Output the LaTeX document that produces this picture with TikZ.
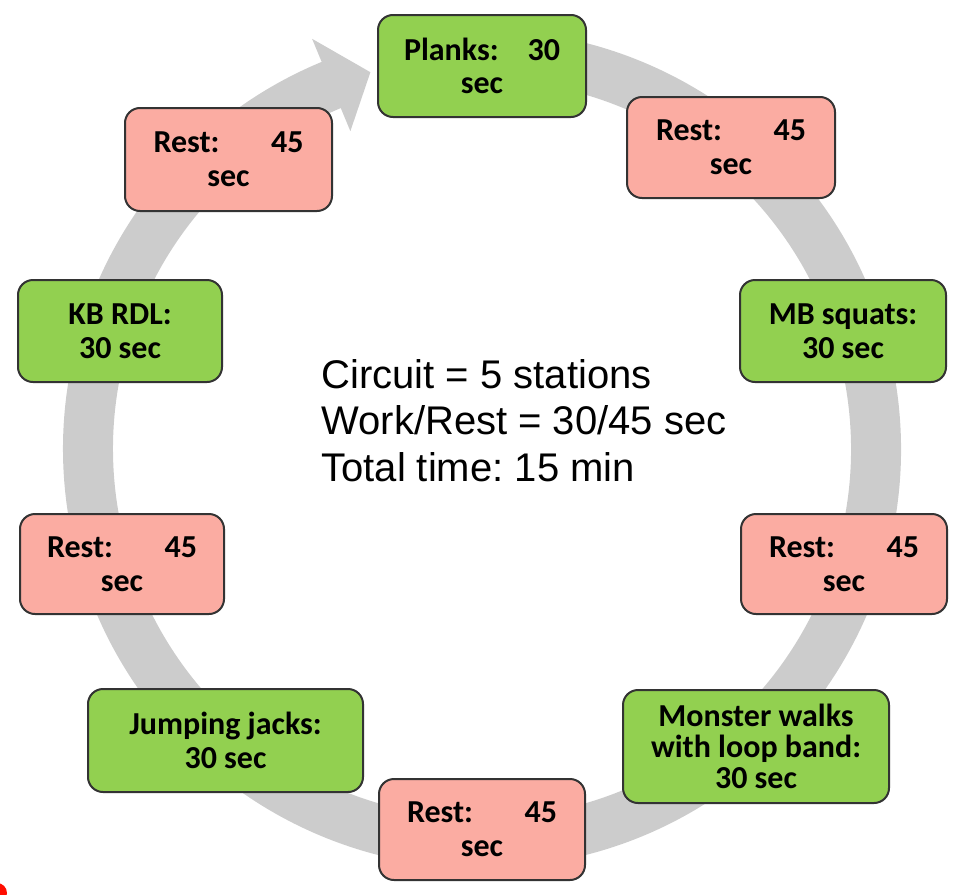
\documentclass[tikz,border=0pt]{standalone}
\usepackage{fontspec}
\setmainfont{Carlito}
\newfontfamily\arialfont{Liberation Sans}

\definecolor{workgreen}{HTML}{92D050}
\definecolor{restpink}{HTML}{FBACA2}
\definecolor{ringgray}{HTML}{CCCCCC}
\definecolor{boxline}{HTML}{333333}

\newcommand{\splitline}[3]{\makebox[#1]{#2\hfill#3}}

\tikzset{
  station/.style={draw=boxline, line width=1pt, rounded corners=7.5pt,
    align=center, inner sep=2pt, text=black,
    font=\fontsize{16}{16.8}\selectfont\bfseries},
  workbox/.style={station, fill=workgreen},
  restbox/.style={station, fill=restpink},
}

\begin{document}
\frenchspacing
\begin{tikzpicture}[x=0.5pt, y=-0.5pt]

    \clip (0,0) rectangle (962,894);

    % Ring
    \begin{scope}[shift={(482,449)}]
      \draw[ringgray, line width=25pt] (262:394) arc[start angle=262, end angle=608, radius=394];
      \fill[ringgray] (247.5:344) -- (253.5:393) -- (247.5:444) -- cycle;
    \end{scope}

    % Stations
    \node[workbox, minimum width=104pt, minimum height=51pt] (planks) at (482,66) {\splitline{78pt}{Planks:}{30}\\sec};
    \node[restbox, minimum width=104pt, minimum height=50.5pt] (restA) at (731,147.5) {\splitline{75pt}{Rest:}{45}\\sec};
    \node[workbox, minimum width=103pt, minimum height=51pt] (squats) at (843,331) {MB squats:\\30 sec};
    \node[restbox, minimum width=103pt, minimum height=50pt] (restB) at (844,564) {\splitline{75pt}{Rest:}{45}\\sec};
    \node[workbox, minimum width=133pt, minimum height=56.5pt, font=\fontsize{16}{15.5}\selectfont\bfseries] (monster) at (756,746.5) {Monster walks\\with loop band:\\30 sec};
    \node[restbox, minimum width=103pt, minimum height=50.5pt] (restC) at (482,829.5) {\splitline{75pt}{Rest:}{45}\\sec};
    \node[workbox, minimum width=137.5pt, minimum height=51.5pt] (jacks) at (225.5,740.5) {Jumping jacks:\\30 sec};
    \node[restbox, minimum width=102pt, minimum height=50pt] (restD) at (122,564) {\splitline{75pt}{Rest:}{45}\\sec};
    \node[workbox, minimum width=102pt, minimum height=51pt] (rdl) at (120,331) {KB RDL:\\30 sec};
    \node[restbox, minimum width=103.5pt, minimum height=51.5pt] (restE) at (228.5,159.5) {\splitline{75pt}{Rest:}{45}\\sec};

    % Summary
    \node[anchor=north west, inner sep=0pt, align=left, font=\arialfont\fontsize{20}{23.3}\selectfont] (summary) at (321,359) {Circuit = 5 stations\\Work/Rest = 30/45 sec\\Total time: 15 min};

    % Corner dot
    \fill[red!90!orange] (-3,893) circle[radius=10];

\end{tikzpicture}
\end{document}
